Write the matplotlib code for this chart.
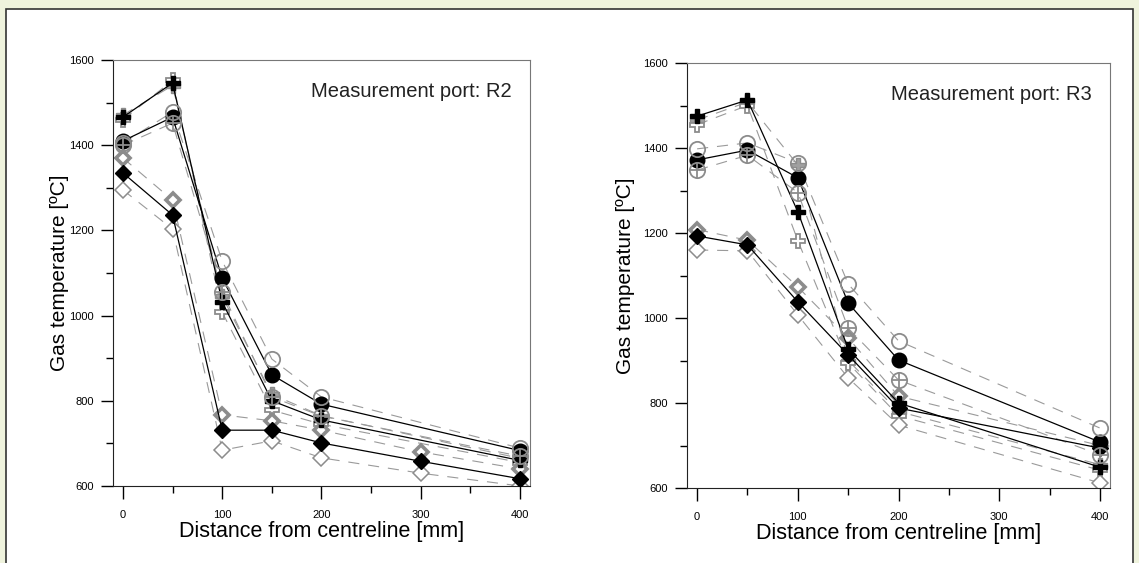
import matplotlib
matplotlib.use("Agg")
import matplotlib.pyplot as plt
from matplotlib.patches import Rectangle

plt.rcParams['font.family'] = ['Liberation Sans', 'DejaVu Sans']

# === data ===
x_main = [0, 50, 100, 150, 200, 400]
x_diam_r2 = [0, 50, 100, 150, 200, 300, 400]
x_diam_r3 = [0, 50, 100, 150, 200, 400]

# port R2
r2_circle_black = [1410, 1466, 1088, 861, 792, 683]
r2_circle_open = [1405, 1478, 1128, 898, 809, 689]
r2_circle_oplus = [1400, 1452, 1055, 809, 764, 670]
r2_plus_black = [1466, 1546, 1032, 800, 755, 660]
r2_plus_open = [1460, 1552, 1008, 778, 745, 655]
r2_plus_gray = [1471, 1540, 1045, 815, 765, 665]
r2_diam_black = [1335, 1236, 731, 731, 701, 658, 617]
r2_diam_gray = [1370, 1271, 767, 753, 731, 680, 640]
r2_diam_open = [1295, 1203, 684, 706, 666, 630, 600]

# port R3
r3_circle_black = [1372, 1395, 1330, 1035, 901, 708]
r3_circle_open = [1398, 1412, 1365, 1080, 946, 741]
r3_circle_oplus = [1348, 1383, 1295, 976, 854, 678]
r3_plus_black = [1475, 1513, 1250, 927, 800, 649]
r3_plus_open = [1455, 1500, 1182, 894, 770, 642]
r3_plus_gray = [1466, 1508, 1360, 900, 780, 655]
r3_diam_black = [1193, 1172, 1038, 913, 788, 694]
r3_diam_gray = [1208, 1183, 1073, 953, 816, 700]
r3_diam_open = [1160, 1158, 1007, 859, 748, 612]

GRAY = '#8c8c8c'
DASH = dict(color='#9a9a9a', lw=0.8, dashes=(10, 8))


def draw_panel(ax, xd, cb, co, cp, pb, po, pg, db, dg, do, port, ylpad):
    # gray dashed model lines
    for xs, ys in [(x_main, co), (x_main, cp), (x_main, po), (x_main, pg), (xd, dg), (xd, do)]:
        ax.plot(xs, ys, **DASH, zorder=1)

    # gray markers
    ax.plot(x_main, pg, ls='none', marker='P', ms=10, mfc='#a0a0a0', mec=GRAY, mew=1, zorder=2)
    ax.plot(x_main, po, ls='none', marker='P', ms=10, mfc='white', mec=GRAY, mew=1.3, zorder=2)
    ax.plot(xd, dg, ls='none', marker='D', ms=7, mfc='white', mec=GRAY, mew=2.6, zorder=2)
    ax.plot(xd, do, ls='none', marker='D', ms=8, mfc='white', mec=GRAY, mew=1.1, zorder=2)

    # black measured lines
    ax.plot(x_main, cb, color='black', lw=0.9, marker='o', ms=10.5, mfc='black', mec='black', zorder=3)
    ax.plot(x_main, pb, color='black', lw=0.9, marker='P', ms=10, mfc='black', mec='black', zorder=3)
    ax.plot(xd, db, color='black', lw=0.9, marker='D', ms=8, mfc='black', mec='black', zorder=3)

    # open circles and circle-plus on top
    ax.plot(x_main, co, ls='none', marker='o', ms=11, mfc='none', mec=GRAY, mew=1.3, zorder=4)
    ax.plot(x_main, cp, ls='none', marker='o', ms=11, mfc='none', mec=GRAY, mew=1.3, zorder=4)
    ax.plot(x_main, cp, ls='none', marker='+', ms=11, mec=GRAY, mew=1.3, zorder=4)

    ax.set_xlim(-10, 410)
    ax.set_ylim(600, 1600)
    ax.set_xticks([0, 100, 200, 300, 400])
    ax.set_xticks([50, 150, 250, 350], minor=True)
    ax.set_yticks([600, 800, 1000, 1200, 1400, 1600])
    ax.set_yticks([700, 900, 1100, 1300, 1500], minor=True)
    ax.tick_params(which='major', direction='out', length=9, width=1, labelsize=8, pad=5)
    ax.tick_params(which='minor', direction='out', length=5, width=1)
    ax.tick_params(axis='x', which='major', pad=8)
    for s in ['left', 'bottom']:
        ax.spines[s].set_color('#222222')
    for s in ['top', 'right']:
        ax.spines[s].set_color('#777777')
    ax.set_xlabel('Distance from centreline [mm]', fontsize=15.5, labelpad=1)
    ax.set_ylabel('Gas temperature [ºC]', fontsize=15, labelpad=ylpad)
    ax.text(0.957, 0.925, 'Measurement port: ' + port, transform=ax.transAxes,
            ha='right', va='center', fontsize=14.5, color='#222222')


fig = plt.figure(figsize=(11.39, 5.63), dpi=100)
fig.patch.set_facecolor('#eff3dd')
fig.patches.append(Rectangle((6 / 1139, -0.02), 1127 / 1139, 1 - 9 / 563 + 0.02,
                             transform=fig.transFigure, facecolor='white',
                             edgecolor='#333333', lw=1.2, zorder=-5))

ax1 = fig.add_axes([0.0992, 0.1368, 0.3661, 0.7566])
ax2 = fig.add_axes([0.6032, 0.1332, 0.3714, 0.7549])

draw_panel(ax1, x_diam_r2, r2_circle_black, r2_circle_open, r2_circle_oplus,
           r2_plus_black, r2_plus_open, r2_plus_gray,
           r2_diam_black, r2_diam_gray, r2_diam_open, 'R2', 0)
draw_panel(ax2, x_diam_r3, r3_circle_black, r3_circle_open, r3_circle_oplus,
           r3_plus_black, r3_plus_open, r3_plus_gray,
           r3_diam_black, r3_diam_gray, r3_diam_open, 'R3', 6)

fig.savefig('out.png', dpi=100, facecolor=fig.get_facecolor())
